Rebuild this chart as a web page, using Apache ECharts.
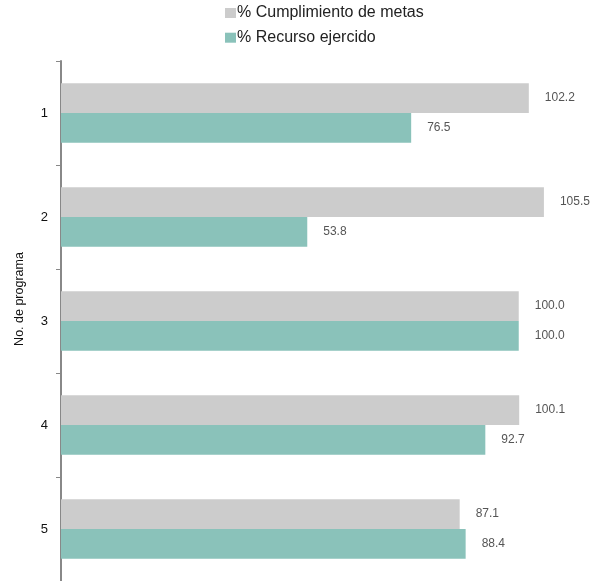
<!DOCTYPE html>
<html>
<head>
<meta charset="utf-8">
<script src="https://cdn.jsdelivr.net/npm/echarts@6/dist/echarts.min.js"></script>
<style>html,body{margin:0;padding:0;background:#fff}#c{width:603px;height:581px}</style>
</head>
<body>
<div id="c"></div>
<script>
var categories = ['1', '2', '3', '4', '5'];
var seriesNames = ['% Cumplimiento de metas', '% Recurso ejercido'];
var metas = [102.2, 105.5, 100.0, 100.1, 87.1];
var recurso = [76.5, 53.8, 100.0, 92.7, 88.4];
var axisName = 'No. de programa';

var FONT = '"Liberation Sans", Arial, Helvetica, sans-serif';
var chart = echarts.init(document.getElementById('c'), null, {renderer: 'canvas'});
chart.setOption({
  animation: false,
  textStyle: {fontFamily: FONT},
  legend: {
    orient: 'vertical',
    left: 220,
    top: 0,
    itemWidth: 11,
    itemHeight: 10,
    itemGap: 8.7,
    icon: 'rect',
    textStyle: {fontFamily: FONT, fontSize: 16, color: '#222', padding: [0, 0, 0, -4]},
    data: seriesNames
  },
  grid: {left: 61, right: 15.6, top: 61, bottom: 0, containLabel: false},
  xAxis: {
    type: 'value', min: 0, max: 115, show: false
  },
  yAxis: {
    type: 'category',
    data: categories,
    inverse: true,
    name: axisName,
    nameLocation: 'middle',
    nameGap: 35,
    nameRotate: 90,
    nameTextStyle: {fontFamily: FONT, fontSize: 12.5, color: '#111', padding: [0, 0, 0, 44]},
    axisLine: {show: true, lineStyle: {color: '#888', width: 2}},
    axisTick: {show: true, length: 5, lineStyle: {color: '#888', width: 1}},
    axisLabel: {fontFamily: FONT, fontSize: 13, color: '#111', margin: 13},
    splitLine: {show: false}
  },
  series: [
    {
      name: seriesNames[0], type: 'bar', data: metas,
      barGap: '0%', barCategoryGap: '43%',
      itemStyle: {color: '#cccccc'},
      label: {show: true, position: 'right', distance: 16, fontFamily: FONT, fontSize: 12, color: '#555',
        formatter: function (p) { return p.value.toFixed(1); }}
    },
    {
      name: seriesNames[1], type: 'bar', data: recurso,
      barGap: '0%', barCategoryGap: '43%',
      itemStyle: {color: '#8ac2ba'},
      label: {show: true, position: 'right', distance: 16, fontFamily: FONT, fontSize: 12, color: '#555',
        formatter: function (p) { return p.value.toFixed(1); }}
    }
  ]
});
</script>
</body>
</html>
